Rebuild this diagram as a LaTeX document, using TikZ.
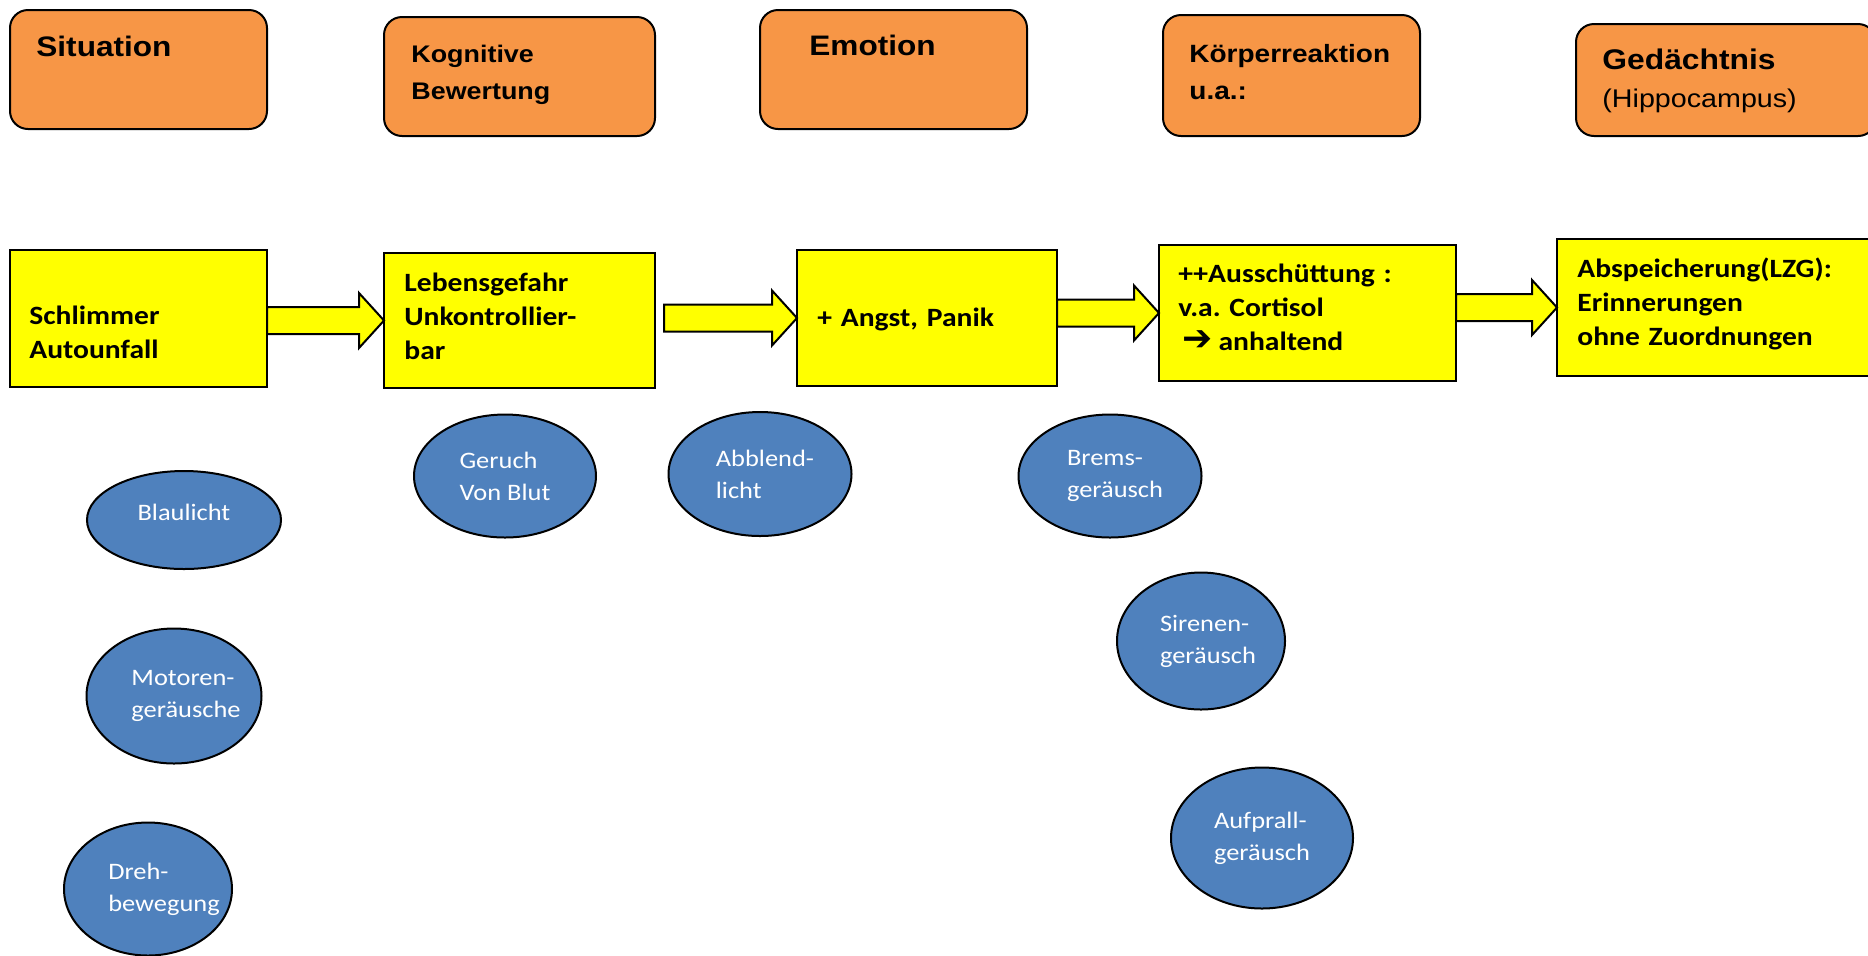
\documentclass[tikz,border=0pt]{standalone}
\usepackage{fontspec}
\usepackage{xcolor}
\usepackage{tikz}
\usetikzlibrary{calc,positioning,shapes.geometric}
\setmainfont[FakeStretch=1.12]{Carlito}
\newfontfamily\headfont[FakeStretch=1.12]{Liberation Sans}
\newfontfamily\symbolfont{DejaVu Sans}
\frenchspacing
\definecolor{headorange}{HTML}{F79646}
\definecolor{stepyellow}{HTML}{FFFF00}
\definecolor{cueblue}{HTML}{4F81BD}
\tikzset{
 boxsize/.style 2 args={
 minimum width=#1*0.5pt,
 minimum height=#2*0.5pt
 },
 headbox/.style={
 rectangle,
 rounded corners=9pt,
 draw=black,
 fill=headorange,
 line width=1pt,
 inner sep=0pt,
 outer sep=0pt,
 anchor=north west
 },
 stepbox/.style={
 rectangle,
 draw=black,
 fill=stepyellow,
 line width=1.2pt,
 inner sep=0pt,
 outer sep=0pt,
 anchor=north west
 },
 headtext/.style={
 inner sep=0pt,
 anchor=base west,
 align=left,
 text width=150pt,
 font=\headfont\bfseries
 },
 steptext/.style={
 inner sep=0pt,
 anchor=base west,
 align=left,
 text width=150pt,
 font=\fontsize{13.2pt}{17pt}\selectfont\bfseries
 },
 cue/.style={
 ellipse,
 draw=black,
 fill=cueblue,
 line width=1pt,
 inner sep=0pt,
 text=white,
 align=left,
 font=\fontsize{11.8pt}{16pt}\selectfont
 },
 blockarr/.style={draw=black, fill=stepyellow, line width=1pt, line join=miter}
}
% broad arrow from the right side of #2 to the left side of #3
\newcommand{\blockarrow}[3][0]{%
 \coordinate (ba-s) at ($(#2.east |- #3.west)+(#1,0)$);
 \coordinate (ba-t) at (#3.west);
 \draw[blockarr] ($(ba-s)+(0,-13.5)$) -- ($(ba-t)+(-25,-13.5)$) -- ($(ba-t)+(-25,-27.5)$)
 -- (ba-t) -- ($(ba-t)+(-25,27.5)$) -- ($(ba-t)+(-25,13.5)$) -- ($(ba-s)+(0,13.5)$) -- cycle;}
% text of a cue, moved right by #1 without widening the ellipse
\newcommand{\cueline}[2]{\kern#1#2\kern-#1}

\begin{document}
\begin{tikzpicture}[x=0.5pt, y=-0.5pt]
 \path[use as bounding box, fill=white] (0,0) rectangle (1868,955);

 % column heads
 \node[headbox, boxsize={257}{119}] (sit) at (10,10) {};
 \node[headbox, boxsize={271}{119}] (kog) at (384,17) {};
 \node[headbox, boxsize={267}{119}] (emo) at (760,10) {};
 \node[headbox, boxsize={257}{121}] (koe) at (1163,15) {};
 \node[headbox, boxsize={300}{112}] (ged) at (1576,24) {};

 \node[headtext, font=\headfont\bfseries\fontsize{14.1pt}{18.5pt}\selectfont] (sit-t) at (36,56) {Situation};
 \node[headtext, font=\headfont\bfseries\fontsize{12pt}{18.5pt}\selectfont] (kog-t) at (411,62) {Kognitive\\Bewertung};
 \node[headtext, font=\headfont\bfseries\fontsize{14.1pt}{18.5pt}\selectfont] (emo-t) at (809,55) {Emotion};
 \node[headtext, font=\headfont\bfseries\fontsize{12.5pt}{18.5pt}\selectfont] (koe-t) at (1189,62) {Körperreaktion\\u.a.:};
 \node[headtext, font=\headfont\fontsize{14.2pt}{19pt}\selectfont] (ged-t) at (1602,69)
 {\textbf{Gedächtnis}\\{\fontsize{12.8pt}{19pt}\selectfont(Hippocampus)}};

 % chain of the event
 \node[stepbox, boxsize={257}{137}] (schl) at (10,250) {};
 \node[stepbox, boxsize={271}{135}] (leb) at (384,253) {};
 \node[stepbox, boxsize={260}{136}] (angst) at (797,250) {};
 \node[stepbox, boxsize={297}{136}] (auss) at (1159,245) {};
 \node[stepbox, boxsize={330}{137}] (absp) at (1557,239) {};

 \node[steptext] (schl-t) at (29,324) {Schlimmer\\Autounfall};
 \node[steptext] (leb-t) at (404,291) {Lebensgefahr\\Unkontrollier-\\bar};
 \node[steptext] (angst-t) at (817,326) {+ Angst, Panik};
 \node[steptext] (auss-t) at (1178,282)
 {++Ausschüttung :\\v.a. Cortisol\\\hspace{2pt}{\symbolfont\fontsize{18pt}{17pt}\selectfont ➔}\hspace{3pt}anhaltend};
 \node[steptext] (absp-t) at (1577,277) {Abspeicherung(LZG):\\Erinnerungen\\ohne Zuordnungen};

 \blockarrow{schl}{leb}
 \blockarrow[9]{leb}{angst}
 \blockarrow{angst}{auss}
 \blockarrow{auss}{absp}

 % sensory cues
 \node[cue, boxsize={194}{98}] (blau) at (184,520) {\raisebox{4pt}[\height][\depth]{Blaulicht}};
 \node[cue, boxsize={175}{135}] (motor) at (174,696) {\cueline{6pt}{Motoren-}\\\cueline{6pt}{geräusche}};
 \node[cue, boxsize={168}{133}] (dreh) at (148,889) {\cueline{8pt}{Dreh-}\\\cueline{8pt}{bewegung}};
 \node[cue, boxsize={182}{123}] (geruch) at (505,476) {Geruch\\Von Blut};
 \node[cue, boxsize={183}{124}] (abbl) at (760,474) {\cueline{2.5pt}{Abblend-}\\\cueline{2.5pt}{licht}};
 \node[cue, boxsize={183}{123}] (brems) at (1110,476) {\cueline{2.5pt}{Brems-}\\\cueline{2.5pt}{geräusch}};
 \node[cue, boxsize={168}{137}] (siren) at (1201,641) {\cueline{3.5pt}{Sirenen-}\\\cueline{3.5pt}{geräusch}};
 \node[cue, boxsize={182}{141}] (aufprall) at (1262,838) {Aufprall-\\geräusch};
\end{tikzpicture}
\end{document}
